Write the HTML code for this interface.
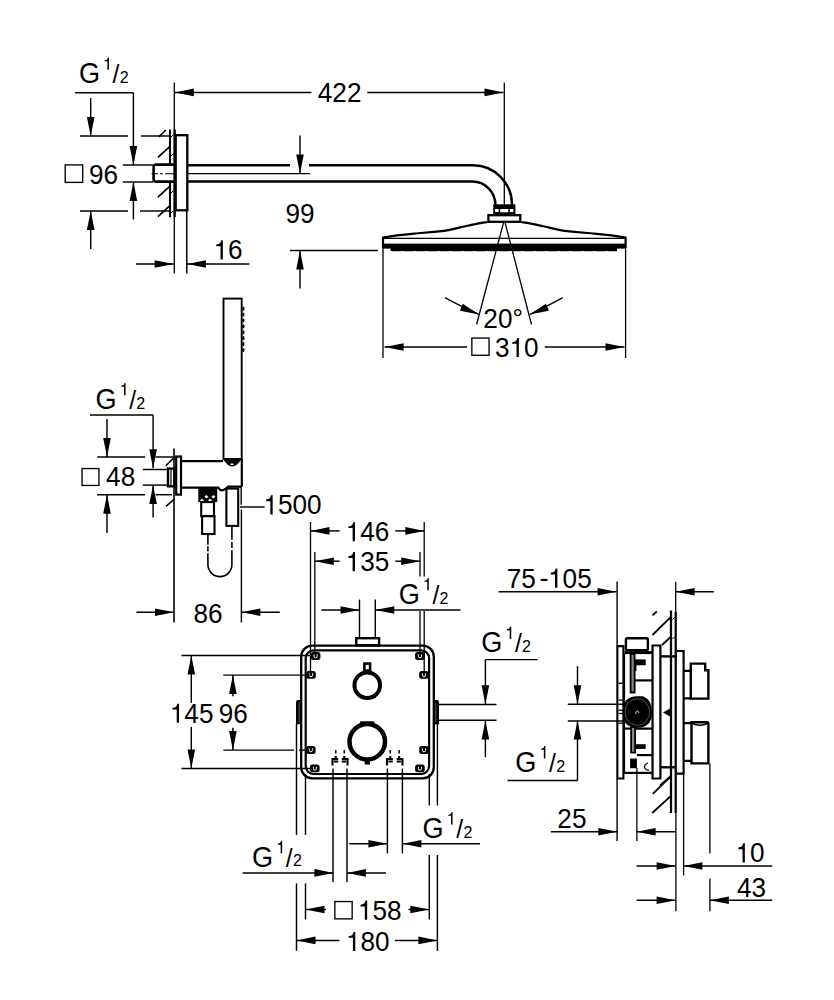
<!DOCTYPE html>
<html><head><meta charset="utf-8"><style>
html,body{margin:0;padding:0;background:#fff;width:834px;height:1000px;overflow:hidden}
svg{display:block}
text{font-family:"Liberation Sans",sans-serif;fill:#000;stroke:none}
</style></head><body>
<svg width="834" height="1000" viewBox="0 0 834 1000" stroke="#000" fill="#000">
<rect x="0" y="0" width="834" height="1000" fill="#fff" stroke="none"/>
<g transform="translate(79.80,0) scale(0.92,1) translate(-79.80,0)">
<text x="78.82" y="83.11" font-size="29.5">G</text>
</g>
<g transform="translate(104.20,0) scale(0.97,1) translate(-104.20,0)">
<path d="M355,0 L266,0 L266,490 L104,490 L104,556 C235,573 268,599 292,709 L355,709 Z" stroke="none" transform="translate(102.88,69.80) scale(0.01750,-0.01750)"/>
</g>
<g transform="translate(112.10,0) scale(0.97,1) translate(-112.10,0)">
<text x="112.60" y="83.15" font-size="25.5">/</text>
</g>
<g transform="translate(120.10,0) scale(0.97,1) translate(-120.10,0)">
<text x="119.77" y="83.10" font-size="16.5">2</text>
</g>
<line x1="75" y1="92.8" x2="133.4" y2="92.8" stroke-width="1.45"/>
<line x1="133.4" y1="92.8" x2="133.4" y2="165" stroke-width="1.45"/>
<polygon points="133.40,165.00 129.60,146.00 137.20,146.00" stroke="none"/>
<line x1="90.7" y1="98" x2="90.7" y2="136" stroke-width="1.45"/>
<polygon points="90.70,136.00 86.90,117.00 94.50,117.00" stroke="none"/>
<line x1="80" y1="136" x2="128" y2="136" stroke-width="1.45"/>
<line x1="141" y1="136" x2="169" y2="136" stroke-width="1.45"/>
<line x1="122.8" y1="165" x2="153" y2="165" stroke-width="1.45"/>
<rect x="65.2" y="164.9" width="17.5" height="17.5" rx="0" fill="none" stroke-width="1.35"/>
<g transform="translate(89.80,0) scale(0.97,1) translate(-89.80,0)">
<text x="89.03" y="184.04" font-size="27">96</text>
</g>
<line x1="122.8" y1="182" x2="153" y2="182" stroke-width="1.45"/>
<line x1="133.4" y1="219.5" x2="133.4" y2="182" stroke-width="1.45"/>
<polygon points="133.40,182.00 137.20,201.00 129.60,201.00" stroke="none"/>
<line x1="80" y1="211" x2="128" y2="211" stroke-width="1.45"/>
<line x1="140" y1="211" x2="169" y2="211" stroke-width="1.45"/>
<line x1="90.7" y1="249" x2="90.7" y2="211" stroke-width="1.45"/>
<polygon points="90.70,211.00 94.50,230.00 86.90,230.00" stroke="none"/>
<line x1="170" y1="129.5" x2="170" y2="164.6" stroke-width="2.1"/>
<line x1="170" y1="181.6" x2="170" y2="217.2" stroke-width="2.1"/>
<line x1="174.7" y1="129.5" x2="174.7" y2="217.2" stroke-width="2.3"/>
<line x1="174.3" y1="82.4" x2="174.3" y2="273.5" stroke-width="1.3"/>
<line x1="158.9" y1="136.8" x2="165.8" y2="130" stroke-width="1.7"/>
<line x1="157.9" y1="157.3" x2="169.4" y2="146.8" stroke-width="1.7"/>
<line x1="157.9" y1="197.2" x2="169.4" y2="186.7" stroke-width="1.7"/>
<line x1="157.9" y1="216.6" x2="169.4" y2="206.1" stroke-width="1.7"/>
<line x1="171" y1="137" x2="173.5" y2="134.5" stroke-width="1.0"/>
<line x1="171" y1="156" x2="173.5" y2="153.5" stroke-width="1.0"/>
<line x1="171" y1="193" x2="173.5" y2="190.5" stroke-width="1.0"/>
<line x1="171" y1="213" x2="173.5" y2="210.5" stroke-width="1.0"/>
<rect x="175.7" y="135.2" width="11.600000000000023" height="75.10000000000002" rx="0" fill="none" stroke-width="2.3"/>
<path d="M175.7,164.6 L156,164.6 Q153.6,164.6 153.6,167 L153.6,179.2 Q153.6,181.6 156,181.6 L175.7,181.6" fill="none" stroke-width="2.6"/>
<path d="M151.6,173.8 L158,173.8 M160,173.8 L163,173.8 M165,173.8 L175,173.8" fill="none" stroke-width="1.1"/>
<path d="M187.3,165.25 L290,165.25 M309,165.25 L473,165.25 A39,39.5 0 0 1 512,204.7" fill="none" stroke-width="2.5"/>
<path d="M187.3,181.45 L472.4,181.45 A23,23.3 0 0 1 495.4,204.7" fill="none" stroke-width="2.5"/>
<line x1="187.3" y1="173.6" x2="310" y2="173.6" stroke-width="1.1"/>
<line x1="300" y1="135.5" x2="300" y2="173.6" stroke-width="1.45"/>
<polygon points="300.00,173.60 296.20,154.60 303.80,154.60" stroke="none"/>
<line x1="311.5" y1="92.4" x2="174.8" y2="92.4" stroke-width="1.45"/>
<polygon points="174.80,92.40 193.80,88.60 193.80,96.20" stroke="none"/>
<g transform="translate(317.90,0) scale(0.97,1) translate(-317.90,0)">
<text x="317.78" y="102.30" font-size="27">422</text>
</g>
<line x1="367.3" y1="92.4" x2="503.5" y2="92.4" stroke-width="1.45"/>
<polygon points="503.50,92.40 484.50,96.20 484.50,88.60" stroke="none"/>
<line x1="136" y1="264" x2="173.7" y2="264" stroke-width="1.45"/>
<polygon points="173.70,264.00 154.70,267.80 154.70,260.20" stroke="none"/>
<line x1="249.4" y1="264" x2="187" y2="264" stroke-width="1.45"/>
<polygon points="187.00,264.00 206.00,260.20 206.00,267.80" stroke="none"/>
<g transform="translate(215.80,0) scale(0.97,1) translate(-215.80,0)">
<path d="M355,0 L266,0 L266,490 L104,490 L104,556 C235,573 268,599 292,709 L355,709 Z" stroke="none" transform="translate(213.49,259.44) scale(0.02700,-0.02700)"/>
<text x="228.51" y="259.44" font-size="27">6</text>
</g>
<line x1="186.8" y1="211" x2="186.8" y2="273.5" stroke-width="1.5"/>
<g transform="translate(286.30,0) scale(0.97,1) translate(-286.30,0)">
<text x="285.53" y="222.74" font-size="27">99</text>
</g>
<line x1="290" y1="250.4" x2="378" y2="250.4" stroke-width="1.45"/>
<line x1="300" y1="288.6" x2="300" y2="250.4" stroke-width="1.45"/>
<polygon points="300.00,250.40 303.80,269.40 296.20,269.40" stroke="none"/>
<rect x="493.2" y="204.3" width="22.19999999999999" height="10.699999999999989" rx="0" fill="#000" stroke-width="0"/>
<rect x="495" y="209" width="3.6000000000000227" height="3" rx="0" fill="#fff" stroke-width="0"/>
<rect x="500.2" y="209" width="8.100000000000023" height="3.3000000000000114" rx="0" fill="#fff" stroke-width="0"/>
<rect x="509.8" y="209" width="3.599999999999966" height="3" rx="0" fill="#fff" stroke-width="0"/>
<rect x="488.4" y="215.2" width="31.899999999999977" height="6.600000000000023" rx="0" fill="none" stroke-width="2.3"/>
<path d="M487.3,222 C485.13,222.38 478.97,223.37 474.30,224.30 C469.63,225.23 464.30,226.52 459.30,227.60 C454.30,228.68 451.80,229.80 444.30,230.80 C436.80,231.80 421.80,232.87 414.30,233.60 C406.80,234.33 404.52,234.53 399.30,235.20 C394.08,235.87 385.72,237.20 383.00,237.60 L383,248" fill="none" stroke-width="2.2"/>
<path d="M521.3,222 C523.47,222.38 529.63,223.37 534.30,224.30 C538.97,225.23 544.30,226.52 549.30,227.60 C554.30,228.68 556.80,229.80 564.30,230.80 C571.80,231.80 586.80,232.87 594.30,233.60 C601.80,234.33 604.08,234.53 609.30,235.20 C614.52,235.87 622.88,237.20 625.60,237.60 L625.6,248" fill="none" stroke-width="2.2"/>
<line x1="383" y1="238.3" x2="625.6" y2="238.3" stroke-width="1.2"/>
<rect x="383" y="243.6" width="242.60000000000002" height="5.0" rx="0" fill="#000" stroke-width="0"/>
<line x1="390.6" y1="249.5" x2="617" y2="249.5" stroke-width="3.0"/>
<line x1="392" y1="250.5" x2="617" y2="250.5" stroke-width="1.6" stroke-dasharray="9 3"/>
<line x1="383" y1="248" x2="383" y2="358" stroke-width="1.3"/>
<line x1="625.6" y1="248" x2="625.6" y2="358" stroke-width="1.3"/>
<line x1="504.3" y1="82.8" x2="504.3" y2="204.5" stroke-width="1.3"/>
<line x1="467" y1="347" x2="384.6" y2="347" stroke-width="1.45"/>
<polygon points="384.60,347.00 403.60,343.20 403.60,350.80" stroke="none"/>
<rect x="471.85" y="338.05" width="17.19999999999999" height="17.19999999999999" rx="0" fill="none" stroke-width="1.35"/>
<g transform="translate(495.50,0) scale(0.97,1) translate(-495.50,0)">
<text x="494.97" y="357.04" font-size="27">3</text>
<path d="M355,0 L266,0 L266,490 L104,490 L104,556 C235,573 268,599 292,709 L355,709 Z" stroke="none" transform="translate(509.99,357.04) scale(0.02700,-0.02700)"/>
<text x="525.00" y="357.04" font-size="27">0</text>
</g>
<line x1="544.8" y1="347" x2="624.5" y2="347" stroke-width="1.45"/>
<polygon points="624.50,347.00 605.50,350.80 605.50,343.20" stroke="none"/>
<line x1="503.6" y1="222.4" x2="476.6" y2="324.5" stroke-width="1.3"/>
<line x1="505" y1="222.4" x2="531.5" y2="324.5" stroke-width="1.3"/>
<path d="M445.1,297.6 Q458,305 479,314.4" fill="none" stroke-width="1.3"/>
<polygon points="479.00,314.40 459.96,310.79 462.82,303.74" stroke="none"/>
<path d="M562.6,297.6 Q549.7,305 529.8,314.4" fill="none" stroke-width="1.3"/>
<polygon points="529.80,314.40 545.96,303.71 548.83,310.75" stroke="none"/>
<g transform="translate(484.20,0) scale(0.97,1) translate(-484.20,0)">
<text x="483.34" y="328.24" font-size="27">20°</text>
</g>
<g transform="translate(96.40,0) scale(0.92,1) translate(-96.40,0)">
<text x="95.42" y="408.61" font-size="29.5">G</text>
</g>
<g transform="translate(120.80,0) scale(0.97,1) translate(-120.80,0)">
<path d="M355,0 L266,0 L266,490 L104,490 L104,556 C235,573 268,599 292,709 L355,709 Z" stroke="none" transform="translate(119.48,395.30) scale(0.01750,-0.01750)"/>
</g>
<g transform="translate(128.70,0) scale(0.97,1) translate(-128.70,0)">
<text x="129.20" y="408.65" font-size="25.5">/</text>
</g>
<g transform="translate(136.70,0) scale(0.97,1) translate(-136.70,0)">
<text x="136.37" y="408.60" font-size="16.5">2</text>
</g>
<line x1="90" y1="414.9" x2="153.1" y2="414.9" stroke-width="1.45"/>
<line x1="153.1" y1="414.9" x2="153.1" y2="468.3" stroke-width="1.45"/>
<polygon points="153.10,468.30 149.30,449.30 156.90,449.30" stroke="none"/>
<line x1="107" y1="419" x2="107" y2="457" stroke-width="1.45"/>
<polygon points="107.00,457.00 103.20,438.00 110.80,438.00" stroke="none"/>
<line x1="97.3" y1="457" x2="145.2" y2="457" stroke-width="1.45"/>
<line x1="155.5" y1="457" x2="174.5" y2="457" stroke-width="1.45"/>
<rect x="82.05" y="468.55" width="16.89999999999999" height="16.899999999999977" rx="0" fill="none" stroke-width="1.35"/>
<g transform="translate(106.20,0) scale(0.97,1) translate(-106.20,0)">
<text x="106.08" y="485.64" font-size="27">48</text>
</g>
<line x1="142.8" y1="469.5" x2="167" y2="469.5" stroke-width="1.45"/>
<line x1="142.8" y1="485.1" x2="167" y2="485.1" stroke-width="1.45"/>
<line x1="153.1" y1="517.5" x2="153.1" y2="485.1" stroke-width="1.45"/>
<polygon points="153.10,485.10 156.90,504.10 149.30,504.10" stroke="none"/>
<line x1="97" y1="494.7" x2="145" y2="494.7" stroke-width="1.45"/>
<line x1="155.5" y1="494.7" x2="172" y2="494.7" stroke-width="1.45"/>
<line x1="107" y1="533" x2="107" y2="494.7" stroke-width="1.45"/>
<polygon points="107.00,494.70 110.80,513.70 103.20,513.70" stroke="none"/>
<line x1="174" y1="448.6" x2="174" y2="622.5" stroke-width="1.6"/>
<line x1="165.8" y1="465.7" x2="174" y2="457.6" stroke-width="1.6"/>
<line x1="165.9" y1="506.4" x2="174" y2="499.4" stroke-width="1.6"/>
<rect x="176.2" y="456.5" width="4.800000000000011" height="38.10000000000002" rx="0" fill="none" stroke-width="2.2"/>
<rect x="168" y="468.6" width="6.5" height="17.69999999999999" rx="0" fill="none" stroke-width="2.4"/>
<line x1="171" y1="470" x2="171" y2="485" stroke-width="1.2"/>
<path d="M181,461.1 L223,461.1 M241.8,459 L241.8,486.8 M181,487.6 L218.3,487.6 Q220,490.3 221.5,490.3 Q224,490.3 228,486.7 L241.8,486.7" fill="none" stroke-width="2.2"/>
<rect x="223.5" y="298.6" width="18.19999999999999" height="160.39999999999998" rx="0" fill="none" stroke-width="1.9"/>
<path d="M223,459 Q232.3,474 241.5,459 Z" fill="#000" stroke-width="0"/>
<rect x="230.5" y="463.5" width="3.0" height="1.5" rx="0" fill="#fff" stroke-width="0"/>
<ellipse cx="243.4" cy="308.70" rx="1.1" ry="2.1" stroke="none"/>
<ellipse cx="243.4" cy="314.60" rx="1.1" ry="2.1" stroke="none"/>
<ellipse cx="243.4" cy="320.50" rx="1.1" ry="2.1" stroke="none"/>
<ellipse cx="243.4" cy="326.40" rx="1.1" ry="2.1" stroke="none"/>
<ellipse cx="243.4" cy="332.30" rx="1.1" ry="2.1" stroke="none"/>
<ellipse cx="243.4" cy="338.20" rx="1.1" ry="2.1" stroke="none"/>
<ellipse cx="243.4" cy="344.10" rx="1.1" ry="2.1" stroke="none"/>
<ellipse cx="243.4" cy="350.00" rx="1.1" ry="2.1" stroke="none"/>
<rect x="198.3" y="487.6" width="18.899999999999977" height="14.5" rx="0" fill="#000" stroke-width="0"/>
<polygon points="204.4,496.7 206.4,494.9 208.4,496.7 206.4,498.5" fill="#fff" stroke="none"/>
<polygon points="211.4,496.7 213.4,494.9 215.4,496.7 213.4,498.5" fill="#fff" stroke="none"/>
<polygon points="200,500.5 202,498.7 204,500.5 202,502.3" fill="#fff" stroke="none"/>
<polygon points="208,500.5 210,498.7 212,500.5 210,502.3" fill="#fff" stroke="none"/>
<rect x="201.2" y="502.1" width="12.800000000000011" height="14.0" rx="0" fill="none" stroke-width="2.1"/>
<rect x="202.1" y="516.1" width="12.400000000000006" height="17.899999999999977" rx="0" fill="none" stroke-width="2.1"/>
<rect x="226.4" y="488.6" width="11.799999999999983" height="37.299999999999955" rx="0" fill="none" stroke-width="2.1"/>
<path d="M207.9,534.6 L207.9,544.7 M207.9,546.2 L207.9,551.5 M207.9,553.2 L207.9,564.6 A12,12 0 0 0 231.9,564.6 L231.9,550.2 M231.9,548 L231.9,542.1 M231.9,539.7 L231.9,526" fill="none" stroke-width="1.6"/>
<line x1="241.2" y1="486.7" x2="241.2" y2="504.8" stroke-width="1.4"/>
<line x1="241.4" y1="509.5" x2="241.4" y2="622.5" stroke-width="1.4"/>
<line x1="240" y1="507" x2="264.6" y2="507" stroke-width="1.45"/>
<g transform="translate(265.60,0) scale(0.97,1) translate(-265.60,0)">
<path d="M355,0 L266,0 L266,490 L104,490 L104,556 C235,573 268,599 292,709 L355,709 Z" stroke="none" transform="translate(263.29,514.44) scale(0.02700,-0.02700)"/>
<text x="278.31" y="514.44" font-size="27">500</text>
</g>
<line x1="136.4" y1="612.2" x2="174" y2="612.2" stroke-width="1.45"/>
<polygon points="174.00,612.20 155.00,616.00 155.00,608.40" stroke="none"/>
<line x1="279.8" y1="612.2" x2="241.4" y2="612.2" stroke-width="1.45"/>
<polygon points="241.40,612.20 260.40,608.40 260.40,616.00" stroke="none"/>
<g transform="translate(194.20,0) scale(0.97,1) translate(-194.20,0)">
<text x="193.53" y="622.74" font-size="27">86</text>
</g>
<line x1="310.5" y1="522" x2="310.5" y2="671" stroke-width="1.3"/>
<line x1="314.8" y1="552" x2="314.8" y2="652" stroke-width="1.3"/>
<line x1="420" y1="552" x2="420" y2="576.5" stroke-width="1.3"/>
<line x1="424.2" y1="522" x2="424.2" y2="576.5" stroke-width="1.3"/>
<line x1="420" y1="611" x2="420" y2="652" stroke-width="1.3"/>
<line x1="424.2" y1="611" x2="424.2" y2="671" stroke-width="1.3"/>
<line x1="339.6" y1="530.9" x2="310.5" y2="530.9" stroke-width="1.45"/>
<polygon points="310.50,530.90 329.50,527.10 329.50,534.70" stroke="none"/>
<line x1="395.3" y1="530.9" x2="424.3" y2="530.9" stroke-width="1.45"/>
<polygon points="424.30,530.90 405.30,534.70 405.30,527.10" stroke="none"/>
<g transform="translate(347.90,0) scale(0.97,1) translate(-347.90,0)">
<path d="M355,0 L266,0 L266,490 L104,490 L104,556 C235,573 268,599 292,709 L355,709 Z" stroke="none" transform="translate(345.59,541.34) scale(0.02700,-0.02700)"/>
<text x="360.61" y="541.34" font-size="27">46</text>
</g>
<line x1="339.6" y1="561.2" x2="314.8" y2="561.2" stroke-width="1.45"/>
<polygon points="314.80,561.20 333.80,557.40 333.80,565.00" stroke="none"/>
<line x1="395.3" y1="561.2" x2="420.2" y2="561.2" stroke-width="1.45"/>
<polygon points="420.20,561.20 401.20,565.00 401.20,557.40" stroke="none"/>
<g transform="translate(347.90,0) scale(0.97,1) translate(-347.90,0)">
<path d="M355,0 L266,0 L266,490 L104,490 L104,556 C235,573 268,599 292,709 L355,709 Z" stroke="none" transform="translate(345.59,571.24) scale(0.02700,-0.02700)"/>
<text x="360.61" y="571.24" font-size="27">35</text>
</g>
<g transform="translate(399.65,0) scale(0.92,1) translate(-399.65,0)">
<text x="398.67" y="603.61" font-size="29.5">G</text>
</g>
<g transform="translate(424.05,0) scale(0.97,1) translate(-424.05,0)">
<path d="M355,0 L266,0 L266,490 L104,490 L104,556 C235,573 268,599 292,709 L355,709 Z" stroke="none" transform="translate(422.73,590.30) scale(0.01750,-0.01750)"/>
</g>
<g transform="translate(431.95,0) scale(0.97,1) translate(-431.95,0)">
<text x="432.45" y="603.65" font-size="25.5">/</text>
</g>
<g transform="translate(439.95,0) scale(0.97,1) translate(-439.95,0)">
<text x="439.62" y="603.60" font-size="16.5">2</text>
</g>
<line x1="321.3" y1="610" x2="359.5" y2="610" stroke-width="1.45"/>
<polygon points="359.50,610.00 340.50,613.80 340.50,606.20" stroke="none"/>
<line x1="460.5" y1="610" x2="375.3" y2="610" stroke-width="1.45"/>
<polygon points="375.30,610.00 394.30,606.20 394.30,613.80" stroke="none"/>
<line x1="359.5" y1="599.6" x2="359.5" y2="638" stroke-width="1.4"/>
<line x1="375.3" y1="599.6" x2="375.3" y2="638" stroke-width="1.4"/>
<rect x="356.3" y="638.2" width="22.80000000000001" height="7.099999999999909" rx="0" fill="none" stroke-width="2.4"/>
<rect x="301.2" y="645.6" width="132.60000000000002" height="132.69999999999993" rx="11" fill="none" stroke-width="2.3"/>
<rect x="305.7" y="650.3" width="123.40000000000003" height="123.70000000000005" rx="8" fill="none" stroke-width="2.2"/>
<path d="M301.2,700.1 L298,700.1 Q296,700.1 296,702.5 L296,724.2 L301.2,724.2 Z" fill="#000" stroke-width="0"/>
<line stroke="#888" x1="299.2" y1="702.5" x2="299.2" y2="722" stroke-width="0.7"/>
<path d="M433.8,700.1 L437,700.1 Q439,700.1 439,702.5 L439,724.2 L433.8,724.2 Z" fill="#000" stroke-width="0"/>
<line stroke="#888" x1="435.8" y1="702.5" x2="435.8" y2="722" stroke-width="0.7"/>
<circle cx="367.25" cy="685.2" r="12.8" fill="none" stroke-width="4"/>
<rect x="364.4" y="663.6" width="5.7000000000000455" height="7.0" rx="0" fill="none" stroke-width="2.6"/>
<circle cx="367.25" cy="741.7" r="17.75" fill="none" stroke-width="4.5"/>
<rect x="360.1" y="721.3" width="14.199999999999989" height="2.7000000000000455" rx="0" fill="#000" stroke-width="0"/>
<rect x="364.7" y="760" width="5.300000000000011" height="4.5" rx="0" fill="#000" stroke-width="0"/>
<rect x="310.8" y="652.1" width="9.600000000000023" height="7.7999999999999545" rx="2.5" fill="#000" stroke-width="0"/>
<path stroke="#fff" d="M314.0,654.4 L314.0,656.2 Q314.0,657.8 315.6,657.8 Q317.20000000000005,657.8 317.20000000000005,656.2 L317.20000000000005,654.4" fill="none" stroke-width="1.0"/>
<rect x="306.2" y="671.0" width="9.600000000000023" height="7.7999999999999545" rx="2.5" fill="#000" stroke-width="0"/>
<path stroke="#fff" d="M309.4,673.3 L309.4,675.1 Q309.4,676.6999999999999 311,676.6999999999999 Q312.6,676.6999999999999 312.6,675.1 L312.6,673.3" fill="none" stroke-width="1.0"/>
<rect x="415.09999999999997" y="652.1" width="9.600000000000023" height="7.7999999999999545" rx="2.5" fill="#000" stroke-width="0"/>
<path stroke="#fff" d="M418.29999999999995,654.4 L418.29999999999995,656.2 Q418.29999999999995,657.8 419.9,657.8 Q421.5,657.8 421.5,656.2 L421.5,654.4" fill="none" stroke-width="1.0"/>
<rect x="419.2" y="671.0" width="9.600000000000023" height="7.7999999999999545" rx="2.5" fill="#000" stroke-width="0"/>
<path stroke="#fff" d="M422.4,673.3 L422.4,675.1 Q422.4,676.6999999999999 424,676.6999999999999 Q425.6,676.6999999999999 425.6,675.1 L425.6,673.3" fill="none" stroke-width="1.0"/>
<rect x="306.0" y="746.1" width="9.600000000000023" height="7.7999999999999545" rx="2.5" fill="#000" stroke-width="0"/>
<path stroke="#fff" d="M309.2,748.4 L309.2,750.2 Q309.2,751.8 310.8,751.8 Q312.40000000000003,751.8 312.40000000000003,750.2 L312.40000000000003,748.4" fill="none" stroke-width="1.0"/>
<rect x="419.2" y="746.1" width="9.600000000000023" height="7.7999999999999545" rx="2.5" fill="#000" stroke-width="0"/>
<path stroke="#fff" d="M422.4,748.4 L422.4,750.2 Q422.4,751.8 424,751.8 Q425.6,751.8 425.6,750.2 L425.6,748.4" fill="none" stroke-width="1.0"/>
<rect x="310.0" y="764.5" width="9.600000000000023" height="7.7999999999999545" rx="2.5" fill="#000" stroke-width="0"/>
<path stroke="#fff" d="M313.2,766.8 L313.2,768.6 Q313.2,770.1999999999999 314.8,770.1999999999999 Q316.40000000000003,770.1999999999999 316.40000000000003,768.6 L316.40000000000003,766.8" fill="none" stroke-width="1.0"/>
<rect x="415.09999999999997" y="764.5" width="9.600000000000023" height="7.7999999999999545" rx="2.5" fill="#000" stroke-width="0"/>
<path stroke="#fff" d="M418.29999999999995,766.8 L418.29999999999995,768.6 Q418.29999999999995,770.1999999999999 419.9,770.1999999999999 Q421.5,770.1999999999999 421.5,768.6 L421.5,766.8" fill="none" stroke-width="1.0"/>
<line x1="181.5" y1="655.5" x2="313" y2="655.5" stroke-width="1.45"/>
<line x1="181.5" y1="768.5" x2="313" y2="768.5" stroke-width="1.45"/>
<line x1="223.3" y1="675.1" x2="309.6" y2="675.1" stroke-width="1.45"/>
<line x1="223.3" y1="750.1" x2="294.1" y2="750.1" stroke-width="1.45"/>
<line x1="299.1" y1="750.1" x2="309" y2="750.1" stroke-width="1.45"/>
<line x1="191.3" y1="702.9" x2="191.3" y2="655.5" stroke-width="1.45"/>
<polygon points="191.30,655.50 195.10,674.50 187.50,674.50" stroke="none"/>
<line x1="191.3" y1="726.9" x2="191.3" y2="768.5" stroke-width="1.45"/>
<polygon points="191.30,768.50 187.50,749.50 195.10,749.50" stroke="none"/>
<g transform="translate(172.00,0) scale(0.97,1) translate(-172.00,0)">
<path d="M355,0 L266,0 L266,490 L104,490 L104,556 C235,573 268,599 292,709 L355,709 Z" stroke="none" transform="translate(169.69,722.84) scale(0.02700,-0.02700)"/>
<text x="184.71" y="722.84" font-size="27">45</text>
</g>
<line x1="232.9" y1="696.2" x2="232.9" y2="675.1" stroke-width="1.45"/>
<polygon points="232.90,675.10 236.70,694.10 229.10,694.10" stroke="none"/>
<line x1="232.9" y1="727.8" x2="232.9" y2="749.9" stroke-width="1.45"/>
<polygon points="232.90,749.90 229.10,730.90 236.70,730.90" stroke="none"/>
<g transform="translate(219.50,0) scale(0.97,1) translate(-219.50,0)">
<text x="218.73" y="722.84" font-size="27">96</text>
</g>
<line x1="438.5" y1="704.4" x2="496.5" y2="704.4" stroke-width="1.45"/>
<line x1="438.5" y1="720.3" x2="496.5" y2="720.3" stroke-width="1.45"/>
<g transform="translate(482.10,0) scale(0.92,1) translate(-482.10,0)">
<text x="481.12" y="652.31" font-size="29.5">G</text>
</g>
<g transform="translate(506.50,0) scale(0.97,1) translate(-506.50,0)">
<path d="M355,0 L266,0 L266,490 L104,490 L104,556 C235,573 268,599 292,709 L355,709 Z" stroke="none" transform="translate(505.18,639.00) scale(0.01750,-0.01750)"/>
</g>
<g transform="translate(514.40,0) scale(0.97,1) translate(-514.40,0)">
<text x="514.90" y="652.35" font-size="25.5">/</text>
</g>
<g transform="translate(522.40,0) scale(0.97,1) translate(-522.40,0)">
<text x="522.07" y="652.30" font-size="16.5">2</text>
</g>
<line x1="485.4" y1="659.6" x2="537.4" y2="659.6" stroke-width="1.45"/>
<line x1="485.4" y1="659.6" x2="485.4" y2="704.2" stroke-width="1.45"/>
<polygon points="485.40,704.20 481.60,685.20 489.20,685.20" stroke="none"/>
<line x1="485.4" y1="757.2" x2="485.4" y2="720.5" stroke-width="1.45"/>
<polygon points="485.40,720.50 489.20,739.50 481.60,739.50" stroke="none"/>
<path d="M332.5,765.5 L332.5,759 L338.25,759 M334.0,761.5 L338.25,761.5 M335.75,759 L335.75,756" fill="none" stroke-width="2.1"/>
<line x1="335.75" y1="750" x2="335.75" y2="753.5" stroke-width="1.5"/>
<path d="M347.5,765.5 L347.5,759 L341.75,759 M346.0,761.5 L341.75,761.5 M344.25,759 L344.25,756" fill="none" stroke-width="2.1"/>
<line x1="344.25" y1="750" x2="344.25" y2="753.5" stroke-width="1.5"/>
<path d="M387,765.5 L387,759 L392.75,759 M388.5,761.5 L392.75,761.5 M390.25,759 L390.25,756" fill="none" stroke-width="2.1"/>
<line x1="390.25" y1="750" x2="390.25" y2="753.5" stroke-width="1.5"/>
<path d="M402.4,765.5 L402.4,759 L396.65,759 M400.9,761.5 L396.65,761.5 M399.15,759 L399.15,756" fill="none" stroke-width="2.1"/>
<line x1="399.15" y1="750" x2="399.15" y2="753.5" stroke-width="1.5"/>
<line x1="296.5" y1="724" x2="296.5" y2="834.9" stroke-width="1.45"/>
<line x1="296.5" y1="883.4" x2="296.5" y2="950.9" stroke-width="1.45"/>
<line x1="305.5" y1="774" x2="305.5" y2="834.9" stroke-width="1.45"/>
<line x1="305.5" y1="883.4" x2="305.5" y2="919.4" stroke-width="1.45"/>
<line x1="333" y1="768.5" x2="333" y2="881.9" stroke-width="1.45"/>
<line x1="347" y1="768.5" x2="347" y2="881.9" stroke-width="1.45"/>
<line x1="387.4" y1="768.5" x2="387.4" y2="853.4" stroke-width="1.45"/>
<line x1="402.4" y1="768.5" x2="402.4" y2="853.4" stroke-width="1.45"/>
<line x1="429.3" y1="774" x2="429.3" y2="805.5" stroke-width="1.45"/>
<line x1="429.3" y1="855" x2="429.3" y2="919.4" stroke-width="1.45"/>
<line x1="437.4" y1="724" x2="437.4" y2="805.5" stroke-width="1.45"/>
<line x1="437.4" y1="855" x2="437.4" y2="950.9" stroke-width="1.45"/>
<line x1="349.3" y1="843.8" x2="387.4" y2="843.8" stroke-width="1.45"/>
<polygon points="387.40,843.80 368.40,847.60 368.40,840.00" stroke="none"/>
<line x1="480" y1="843.8" x2="402.4" y2="843.8" stroke-width="1.45"/>
<polygon points="402.40,843.80 421.40,840.00 421.40,847.60" stroke="none"/>
<g transform="translate(423.40,0) scale(0.92,1) translate(-423.40,0)">
<text x="422.42" y="837.71" font-size="29.5">G</text>
</g>
<g transform="translate(447.80,0) scale(0.97,1) translate(-447.80,0)">
<path d="M355,0 L266,0 L266,490 L104,490 L104,556 C235,573 268,599 292,709 L355,709 Z" stroke="none" transform="translate(446.48,824.40) scale(0.01750,-0.01750)"/>
</g>
<g transform="translate(455.70,0) scale(0.97,1) translate(-455.70,0)">
<text x="456.20" y="837.75" font-size="25.5">/</text>
</g>
<g transform="translate(463.70,0) scale(0.97,1) translate(-463.70,0)">
<text x="463.37" y="837.70" font-size="16.5">2</text>
</g>
<line x1="242.6" y1="872.9" x2="333.4" y2="872.9" stroke-width="1.45"/>
<polygon points="333.40,872.90 314.40,876.70 314.40,869.10" stroke="none"/>
<line x1="385.9" y1="872.9" x2="346.9" y2="872.9" stroke-width="1.45"/>
<polygon points="346.90,872.90 365.90,869.10 365.90,876.70" stroke="none"/>
<g transform="translate(253.00,0) scale(0.92,1) translate(-253.00,0)">
<text x="252.02" y="866.51" font-size="29.5">G</text>
</g>
<g transform="translate(277.40,0) scale(0.97,1) translate(-277.40,0)">
<path d="M355,0 L266,0 L266,490 L104,490 L104,556 C235,573 268,599 292,709 L355,709 Z" stroke="none" transform="translate(276.08,853.20) scale(0.01750,-0.01750)"/>
</g>
<g transform="translate(285.30,0) scale(0.97,1) translate(-285.30,0)">
<text x="285.80" y="866.55" font-size="25.5">/</text>
</g>
<g transform="translate(293.30,0) scale(0.97,1) translate(-293.30,0)">
<text x="292.97" y="866.50" font-size="16.5">2</text>
</g>
<line x1="326" y1="909.5" x2="305.5" y2="909.5" stroke-width="1.45"/>
<polygon points="305.50,909.50 324.50,905.70 324.50,913.30" stroke="none"/>
<line x1="408.4" y1="909.5" x2="429.3" y2="909.5" stroke-width="1.45"/>
<polygon points="429.30,909.50 410.30,913.30 410.30,905.70" stroke="none"/>
<rect x="334.85" y="901.55" width="17.30000000000001" height="17.299999999999955" rx="0" fill="none" stroke-width="1.35"/>
<g transform="translate(360.10,0) scale(0.97,1) translate(-360.10,0)">
<path d="M355,0 L266,0 L266,490 L104,490 L104,556 C235,573 268,599 292,709 L355,709 Z" stroke="none" transform="translate(357.79,919.74) scale(0.02700,-0.02700)"/>
<text x="372.81" y="919.74" font-size="27">58</text>
</g>
<line x1="339.4" y1="940.4" x2="296.5" y2="940.4" stroke-width="1.45"/>
<polygon points="296.50,940.40 315.50,936.60 315.50,944.20" stroke="none"/>
<line x1="394.9" y1="940.4" x2="437.4" y2="940.4" stroke-width="1.45"/>
<polygon points="437.40,940.40 418.40,944.20 418.40,936.60" stroke="none"/>
<g transform="translate(348.20,0) scale(0.97,1) translate(-348.20,0)">
<path d="M355,0 L266,0 L266,490 L104,490 L104,556 C235,573 268,599 292,709 L355,709 Z" stroke="none" transform="translate(345.89,951.04) scale(0.02700,-0.02700)"/>
<text x="360.91" y="951.04" font-size="27">80</text>
</g>
<g transform="translate(507.50,0) scale(0.97,1) translate(-507.50,0)">
<text x="506.62" y="587.74" font-size="27">75</text>
</g>
<text x="539.50" y="586.55" font-size="27">-</text>
<g transform="translate(550.30,0) scale(0.97,1) translate(-550.30,0)">
<path d="M355,0 L266,0 L266,490 L104,490 L104,556 C235,573 268,599 292,709 L355,709 Z" stroke="none" transform="translate(547.99,587.74) scale(0.02700,-0.02700)"/>
<text x="563.01" y="587.74" font-size="27">05</text>
</g>
<line x1="498.6" y1="591.8" x2="616.6" y2="591.8" stroke-width="1.45"/>
<polygon points="616.60,591.80 597.60,595.60 597.60,588.00" stroke="none"/>
<line x1="713.9" y1="591.8" x2="675.6" y2="591.8" stroke-width="1.45"/>
<polygon points="675.60,591.80 694.60,588.00 694.60,595.60" stroke="none"/>
<line x1="617.1" y1="581.5" x2="617.1" y2="645.5" stroke-width="1.4"/>
<line x1="675.7" y1="581.7" x2="675.7" y2="611.5" stroke-width="1.3"/>
<line x1="675.7" y1="611.5" x2="675.7" y2="813" stroke-width="2.3"/>
<line x1="675.9" y1="813" x2="675.9" y2="911.2" stroke-width="1.3"/>
<line x1="671" y1="610.5" x2="671" y2="813" stroke-width="2.3"/>
<line x1="652.5" y1="615.3" x2="656.8" y2="611.5" stroke-width="1.8"/>
<line x1="652.5" y1="635" x2="670.7" y2="617.2" stroke-width="1.8"/>
<line x1="662" y1="645" x2="670.7" y2="636.9" stroke-width="1.8"/>
<line x1="672.5" y1="619.5" x2="674.5" y2="617.5" stroke-width="1"/>
<line x1="672.5" y1="639" x2="674.5" y2="637" stroke-width="1"/>
<line x1="660" y1="785.4" x2="670.7" y2="776.3" stroke-width="1.8"/>
<line x1="652.8" y1="793.8" x2="671" y2="776.1" stroke-width="1.8"/>
<line x1="652.2" y1="813" x2="671" y2="795.8" stroke-width="1.8"/>
<line x1="577.5" y1="666.2" x2="577.5" y2="704.2" stroke-width="1.45"/>
<polygon points="577.50,704.20 573.70,685.20 581.30,685.20" stroke="none"/>
<line x1="577.5" y1="780.5" x2="577.5" y2="720.6" stroke-width="1.45"/>
<polygon points="577.50,720.60 581.30,739.60 573.70,739.60" stroke="none"/>
<line x1="507.6" y1="780.5" x2="577.5" y2="780.5" stroke-width="1.45"/>
<g transform="translate(516.20,0) scale(0.92,1) translate(-516.20,0)">
<text x="515.22" y="771.71" font-size="29.5">G</text>
</g>
<g transform="translate(540.60,0) scale(0.97,1) translate(-540.60,0)">
<path d="M355,0 L266,0 L266,490 L104,490 L104,556 C235,573 268,599 292,709 L355,709 Z" stroke="none" transform="translate(539.28,758.40) scale(0.01750,-0.01750)"/>
</g>
<g transform="translate(548.50,0) scale(0.97,1) translate(-548.50,0)">
<text x="549.00" y="771.75" font-size="25.5">/</text>
</g>
<g transform="translate(556.50,0) scale(0.97,1) translate(-556.50,0)">
<text x="556.17" y="771.70" font-size="16.5">2</text>
</g>
<line x1="567.8" y1="704.2" x2="625" y2="704.2" stroke-width="1.45"/>
<line x1="567.8" y1="721" x2="625" y2="721" stroke-width="1.45"/>
<path d="M617.35,646.1 L617.35,778.5 L623.4,778.5 L623.4,646.1 Z" fill="none" stroke-width="2.1"/>
<line x1="618.5" y1="683.3" x2="622.5" y2="683.3" stroke-width="1.5"/>
<line x1="618.5" y1="700.1" x2="622.5" y2="700.1" stroke-width="1.3"/>
<line x1="618.5" y1="710.2" x2="622.5" y2="710.2" stroke-width="1.3"/>
<line x1="618.5" y1="713.5" x2="622.5" y2="713.5" stroke-width="1.3"/>
<line x1="618.5" y1="723.2" x2="622.5" y2="723.2" stroke-width="1.3"/>
<rect x="625.9" y="638.3" width="22.0" height="12.0" rx="1.5" fill="none" stroke-width="2.4"/>
<line x1="624.5" y1="652.6" x2="652" y2="652.6" stroke-width="3.0"/>
<line x1="624.3" y1="654" x2="624.3" y2="773" stroke-width="1.6"/>
<line x1="624.3" y1="772.9" x2="652" y2="772.9" stroke-width="2.2"/>
<rect x="630.6" y="654" width="4.0" height="38.5" rx="0" fill="#888" stroke-width="1.8"/>
<rect x="634.8" y="659.4" width="10.900000000000091" height="5.899999999999977" rx="0" fill="#000" stroke-width="0"/>
<rect x="634.6" y="665" width="1.7999999999999545" height="6" rx="0" fill="#000" stroke-width="0"/>
<line x1="634.3" y1="680.4" x2="652" y2="680.4" stroke-width="2.2"/>
<line x1="624.3" y1="728.6" x2="652" y2="728.6" stroke-width="2.2"/>
<rect x="631.1" y="727" width="4.0" height="25.600000000000023" rx="0" fill="#888" stroke-width="1.8"/>
<rect x="635" y="744.2" width="10.700000000000045" height="4.699999999999932" rx="0" fill="#000" stroke-width="0"/>
<line x1="636.9" y1="755.1" x2="652" y2="755.1" stroke-width="2.2"/>
<rect x="630.1" y="758.5" width="6.7999999999999545" height="9.700000000000045" rx="0" fill="#000" stroke-width="0"/>
<path d="M648,763 Q644.2,764.5 644.5,767 Q645,770 649,770.3" fill="none" stroke-width="1.3"/>
<path d="M637.3,696.3 L643,696.3 Q652,700 652,712 Q652,727.8 637.3,727.8 Q622.6,727.8 622.6,712 Q622.6,696.3 637.3,696.3 Z" fill="#000" stroke-width="0"/>
<ellipse cx="637.3" cy="712" rx="12.3" ry="13.3" fill="none" stroke="#fff" stroke-width="0.5" opacity="0.6"/>
<path stroke="#fff" d="M635.8,714 Q635.8,711 637.3,711 Q638.8,711 638.8,713" fill="none" stroke-width="0.8"/>
<path d="M652.55,645.5 L652.55,778.5 L660.4,778.5 L660.4,645.5 Z" fill="none" stroke-width="2.2"/>
<line x1="660.4" y1="656.4" x2="677" y2="656.4" stroke-width="2.4"/>
<line x1="660.4" y1="767.3" x2="675.5" y2="767.3" stroke-width="2.4"/>
<path d="M663,712.5 L670.4,708.2 L670.4,716.7 Z" fill="#000" stroke-width="0"/>
<path d="M676.8,651 L683.6,651 L683.6,773.6 L676.8,773.6" fill="none" stroke-width="2.2"/>
<path d="M690.8,663.6 L705.2,663.6 L705.2,670.2 L708.4,670.2 L708.4,698.6 L690.8,698.6 Z" fill="none" stroke-width="2.4"/>
<path d="M683.6,670.8 L690.8,670.8 M683.6,698.4 L690.8,698.4" fill="none" stroke-width="2.2"/>
<path d="M691.5,722.2 L707,722.2 Q708.4,722.2 708.4,724 L708.4,763.4 L691.5,763.4 Z" fill="none" stroke-width="2.4"/>
<path d="M683.6,723.2 L691.5,723.2 M683.6,760.8 L691.5,760.8" fill="none" stroke-width="2.2"/>
<path d="M692,723.5 Q700,727 707.5,723.5" fill="none" stroke-width="1.6"/>
<line x1="636.9" y1="768" x2="636.9" y2="841" stroke-width="1.3"/>
<line x1="617.1" y1="778.5" x2="617.1" y2="841" stroke-width="1.4"/>
<line x1="683.6" y1="773.6" x2="683.6" y2="875.3" stroke-width="1.3"/>
<line x1="709.9" y1="763.4" x2="709.9" y2="853.5" stroke-width="1.3"/>
<line x1="709.9" y1="878.5" x2="709.9" y2="911.2" stroke-width="1.3"/>
<line x1="550.9" y1="831.7" x2="617.3" y2="831.7" stroke-width="1.45"/>
<polygon points="617.30,831.70 598.30,835.50 598.30,827.90" stroke="none"/>
<line x1="675.6" y1="831.7" x2="636.6" y2="831.7" stroke-width="1.45"/>
<polygon points="636.60,831.70 655.60,827.90 655.60,835.50" stroke="none"/>
<g transform="translate(558.20,0) scale(0.97,1) translate(-558.20,0)">
<text x="557.34" y="828.04" font-size="27">25</text>
</g>
<line x1="636.6" y1="866" x2="675.6" y2="866" stroke-width="1.45"/>
<polygon points="675.60,866.00 656.60,869.80 656.60,862.20" stroke="none"/>
<line x1="772.2" y1="866" x2="683.4" y2="866" stroke-width="1.45"/>
<polygon points="683.40,866.00 702.40,862.20 702.40,869.80" stroke="none"/>
<g transform="translate(737.80,0) scale(0.97,1) translate(-737.80,0)">
<path d="M355,0 L266,0 L266,490 L104,490 L104,556 C235,573 268,599 292,709 L355,709 Z" stroke="none" transform="translate(735.49,862.44) scale(0.02700,-0.02700)"/>
<text x="750.51" y="862.44" font-size="27">0</text>
</g>
<line x1="636.6" y1="900.3" x2="675.6" y2="900.3" stroke-width="1.45"/>
<polygon points="675.60,900.30 656.60,904.10 656.60,896.50" stroke="none"/>
<line x1="772.2" y1="900.3" x2="709.9" y2="900.3" stroke-width="1.45"/>
<polygon points="709.90,900.30 728.90,896.50 728.90,904.10" stroke="none"/>
<g transform="translate(737.20,0) scale(0.97,1) translate(-737.20,0)">
<text x="737.08" y="896.94" font-size="27">43</text>
</g>
</svg></body></html>
